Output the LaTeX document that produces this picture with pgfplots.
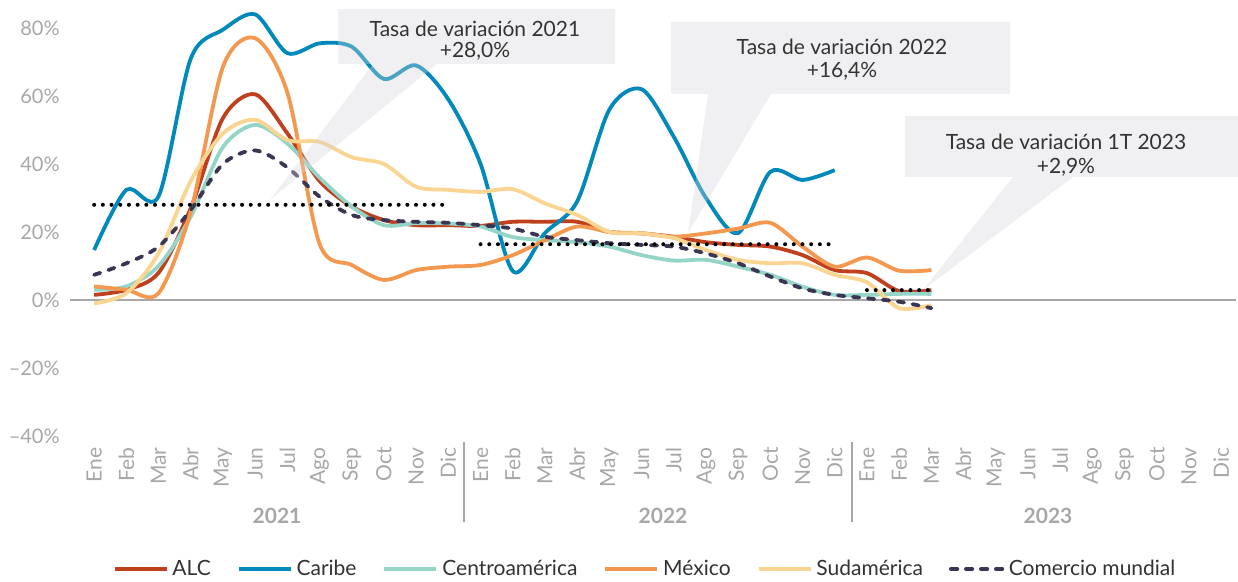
\documentclass[border=0pt]{standalone}
\usepackage{pgfplots}
\pgfplotsset{compat=1.18}
\usepackage{fontspec}
\setmainfont{Lato}
\definecolor{alc}{HTML}{C0401E}
\definecolor{caribe}{HTML}{0089BA}
\definecolor{centro}{HTML}{94D5C8}
\definecolor{mexico}{HTML}{F4974F}
\definecolor{sud}{HTML}{FAD491}
\definecolor{comercio}{HTML}{3A3553}
\definecolor{tick}{HTML}{A7A7AA}
\definecolor{boxc}{HTML}{D4D4DA}
\definecolor{txt}{HTML}{333333}
\begin{document}
\begin{tikzpicture}
\useasboundingbox (0,0) rectangle (619pt,291pt);
\begin{axis}[
  at={(35pt,73pt)}, anchor=south west,
  scale only axis, width=583pt, height=212.5pt,
  xmin=-0.75, xmax=35.46, ymin=-40, ymax=85,
  axis line style={draw=none},
  major tick length=0pt,
  xtick={0,...,35},
  xticklabels={Ene,Feb,Mar,Abr,May,Jun,Jul,Ago,Sep,Oct,Nov,Dic,Ene,Feb,Mar,Abr,May,Jun,Jul,Ago,Sep,Oct,Nov,Dic,Ene,Feb,Mar,Abr,May,Jun,Jul,Ago,Sep,Oct,Nov,Dic},
  xticklabel style={yshift=-5.5pt, rotate=90, anchor=east, inner sep=0pt, font=\fontsize{10.5}{12}\selectfont, text=tick},
  ytick={-40,-20,0,20,40,60,80},
  yticklabels={–40\%,–20\%,0\%,20\%,40\%,60\%,80\%},
  yticklabel style={anchor=east, inner sep=0pt, xshift=-5pt, font=\fontsize{10}{12}\selectfont, text=tick},
  clip=false,
  legend columns=6,
  legend style={at={(0.494,-0.313)}, anchor=center, draw=none, fill=none,
    font=\fontsize{10.5}{12}\selectfont, text=txt,
    /tikz/every even column/.append style={column sep=11pt}},
  legend image code/.code={\draw[#1] (0pt,0pt) -- (26pt,0pt);},
  every axis plot/.append style={line width=1.9pt, smooth},
]
\draw[color=tick, line width=0.8pt] (axis cs:-0.75,0) -- (axis cs:35.46,0);
% ALC
\addplot[alc] coordinates {(0,1.5)(1,3)(2,8)(3,27)(4,53.5)(5,60.5)(6,49)(7,35)(8,27.5)(9,23.5)(10,22)(11,22)
(12,21.8)(13,23)(14,23)(15,23)(16,20)(17,19.6)(18,18.6)(19,17)(20,16.2)(21,15.7)(22,13.2)(23,8.8)(24,7.9)(25,2.6)(26,2.9)};
\addlegendentry{ALC}
% Caribe
\addplot[caribe] coordinates {(0,14.7)(1,32.4)(2,30.5)(3,71)(4,79.5)(5,84)(6,72.6)(7,75.5)(8,74.5)(9,65)(10,69)(11,59)
(12,40)(13,8.5)(14,19.7)(15,29)(16,56)(17,62)(18,48)(19,30)(20,19.7)(21,37.7)(22,35.3)(23,38.2)};
\addlegendentry{Caribe}
% Centroamerica
\addplot[centro] coordinates {(0,3)(1,4)(2,10)(3,24.5)(4,45)(5,51.5)(6,46)(7,36)(8,27.5)(9,22)(10,22.6)(11,22.5)
(12,21.6)(13,18.5)(14,17.6)(15,17)(16,15.7)(17,13.2)(18,11.6)(19,11.8)(20,9.8)(21,7.4)(22,3.9)(23,1.5)(24,1.5)(25,1.8)(26,1.8)};
\addlegendentry{Centroamérica}
% Mexico
\addplot[mexico] coordinates {(0,4)(1,3)(2,2)(3,26)(4,68.6)(5,77)(6,61)(7,16.5)(8,10.3)(9,5.9)(10,8.8)(11,9.8)
(12,10.3)(13,13.2)(14,17.6)(15,21.6)(16,20)(17,19.6)(18,18.6)(19,19.6)(20,21)(21,22.7)(22,15.7)(23,9.8)(24,12.5)(25,8.6)(26,8.8)};
\addlegendentry{México}
% Sudamerica
\addplot[sud] coordinates {(0,-1)(1,2)(2,13.7)(3,35)(4,49)(5,53)(6,47)(7,46.5)(8,42)(9,40)(10,33.3)(11,32.4)
(12,31.8)(13,32.6)(14,28.4)(15,25)(16,20)(17,19.6)(18,18.2)(19,14.7)(20,11.8)(21,10.8)(22,10.8)(23,7.4)(24,5.2)(25,-2.4)(26,-1.5)};
\addlegendentry{Sudamérica}
% Comercio mundial
\addplot[comercio, line cap=round, dash pattern=on 3.2pt off 4.3pt] coordinates {(0,7.4)(1,10.8)(2,15.7)(3,26.5)(4,40)(5,44)(6,39)(7,30.4)(8,25)(9,23.5)(10,23)(11,22.7)
(12,22)(13,21)(14,18.6)(15,17.6)(16,16.7)(17,16.2)(18,15.7)(19,13.7)(20,10.8)(21,6.9)(22,3.4)(23,1.5)(24,0.5)(25,-0.5)(26,-2.4)};
\addlegendentry{Comercio mundial}
% averages
\addplot[forget plot, black, line width=2pt, line cap=round, dash pattern=on 0pt off 4.35pt, sharp plot] coordinates {(0,28)(11,28)};
\addplot[forget plot, black, line width=2pt, line cap=round, dash pattern=on 0pt off 4.35pt, sharp plot] coordinates {(12,16.4)(23,16.4)};
\addplot[forget plot, black, line width=2pt, line cap=round, dash pattern=on 0pt off 4.35pt, sharp plot] coordinates {(24,2.9)(26,2.9)};
\end{axis}
\begin{scope}[x=0.5pt, y=-0.5pt, yshift=291pt]
% separators
\draw[color=tick, line width=0.6pt] (464,442) -- (464,522);
\draw[color=tick, line width=0.6pt] (852,442) -- (852,522);
% year labels
\node[text=tick, font=\fontsize{10.5}{12}\selectfont\bfseries] at (277,516) {2021};
\node[text=tick, font=\fontsize{10.5}{12}\selectfont\bfseries] at (663,516) {2022};
\node[text=tick, font=\fontsize{10.5}{12}\selectfont\bfseries] at (1048,516) {2023};
% callouts
\fill[boxc, fill opacity=0.35] (338,9) -- (615,9) -- (615,64) -- (437,64) -- (270,200) -- (373,64) -- (338,64) -- cycle;
\fill[boxc, fill opacity=0.35] (671,22) -- (1010,22) -- (1010,94) -- (771,94) -- (688,233) -- (708,94) -- (671,94) -- cycle;
\fill[boxc, fill opacity=0.35] (905,116) -- (1238,116) -- (1238,177) -- (1073,177) -- (923,290) -- (1013,177) -- (905,177) -- cycle;
\node[text=txt, align=center, font=\fontsize{10.5}{10.5}\selectfont] at (475,40.5) {Tasa de variación 2021\\+28,0\%};
\node[text=txt, align=center, font=\fontsize{10.5}{11.5}\selectfont] at (842,59.5) {Tasa de variación 2022\\+16,4\%};
\node[text=txt, align=center, font=\fontsize{10.5}{12}\selectfont] at (1066,155) {Tasa de variación 1T 2023\\+2,9\%};
\end{scope}
\end{tikzpicture}
\end{document}
